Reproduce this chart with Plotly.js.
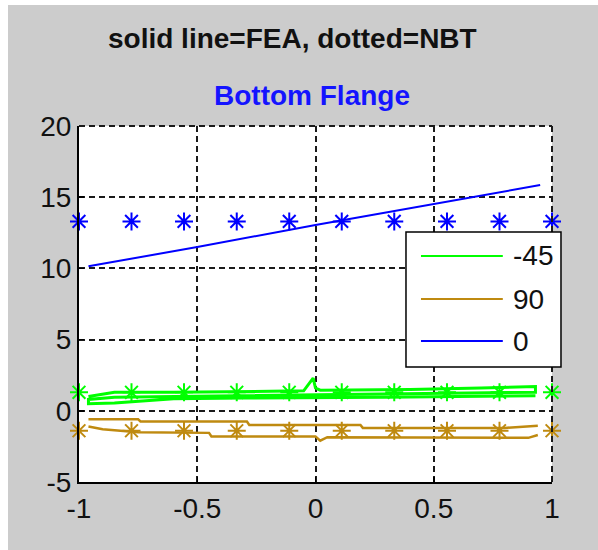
<!DOCTYPE html>
<html>
<head>
<meta charset="utf-8">
<script src="https://cdn.plot.ly/plotly-3.0.1.min.js"></script>
<style>
  html, body { margin: 0; padding: 0; background: #ffffff; }
  #chart { position: absolute; left: 8px; top: 5px; width: 590px; height: 545px; }
</style>
</head>
<body>
<div id="chart"></div>
<script>
// ---- data ----
var seriesNames = ["-45", "90", "0"];
var seriesColors = ["#00ff00", "#bf8a10", "#0000ff"];

// NBT (dotted, star markers)
var nbtX = [-1, -0.778, -0.556, -0.333, -0.111, 0.111, 0.333, 0.556, 0.778, 1];
var nbtM45 = [1.3, 1.3, 1.3, 1.3, 1.3, 1.3, 1.3, 1.3, 1.3, 1.3];
var nbt90 = [-1.4, -1.4, -1.4, -1.4, -1.4, -1.4, -1.4, -1.4, -1.4, -1.4];
var nbt0 = [13.3, 13.3, 13.3, 13.3, 13.3, 13.3, 13.3, 13.3, 13.3, 13.3];

// FEA (solid) -45 : top surface, mid surface, bottom surface
var feaM45X = [-0.96, -0.85, -0.6, -0.3, -0.05, -0.01, 0.0, 0.02, 0.1, 0.4, 0.7, 0.93,
               0.93, 0.7, 0.4, 0.1, 0.02, -0.3, -0.6, -0.85, -0.96,
               -0.96, -0.85, -0.6, -0.3, 0.0, 0.3, 0.6, 0.93];
var feaM45Y = [1.0, 1.3, 1.3, 1.35, 1.4, 2.3, 1.6, 1.45, 1.45, 1.5, 1.6, 1.7,
               1.3, 1.25, 1.2, 1.15, 1.1, 1.05, 1.0, 0.95, 0.8,
               0.5, 0.55, 0.85, 0.9, 0.9, 0.95, 1.0, 1.05];

// FEA (solid) 90 : top surface, bottom surface
var fea90X = [-0.96, -0.75, -0.74, -0.29, -0.28, 0.19, 0.2, 0.8, 0.94, null,
              0.94, 0.9, 0.05, 0.02, 0.0, -0.44, -0.45, -0.75, -0.9, -0.96];
var fea90Y = [-0.6, -0.6, -0.75, -0.75, -1.0, -1.0, -1.2, -1.2, -1.05, null,
              -1.7, -1.9, -1.85, -2.1, -1.8, -1.8, -1.55, -1.5, -1.3, -1.1];

// FEA (solid) 0
var fea0X = [-0.96, -0.5, 0, 0.5, 0.95];
var fea0Y = [10.15, 11.5, 13.05, 14.5, 15.85];

var xTicks = [-1, -0.5, 0, 0.5, 1];
var xTickText = ["-1", "-0.5", "0", "0.5", "1"];
var yTicks = [-5, 0, 5, 10, 15, 20];
var yTickText = ["-5", "0", "5", "10", "15", "20"];

var mainTitle = "solid line=FEA, dotted=NBT";
var subTitle = "Bottom Flange";

// ---- traces ----
function feaTrace(x, y, c, w) {
  return {x: x, y: y, type: "scatter", mode: "lines", showlegend: false,
          line: {color: c, width: w}, hoverinfo: "skip"};
}
function nbtTrace(x, y, c) {
  return {x: x, y: y, type: "scatter", mode: "markers", showlegend: false,
          marker: {symbol: "asterisk-open", size: 15, color: c, line: {color: c, width: 2}},
          cliponaxis: false, hoverinfo: "skip"};
}
var traces = [
  feaTrace(feaM45X, feaM45Y, seriesColors[0], 3),
  feaTrace(fea90X, fea90Y, seriesColors[1], 2.5),
  feaTrace(fea0X, fea0Y, seriesColors[2], 2),
  nbtTrace(nbtX, nbtM45, seriesColors[0]),
  nbtTrace(nbtX, nbt90, seriesColors[1]),
  nbtTrace(nbtX, nbt0, seriesColors[2])
];

// ---- layout ----
var font = "'Liberation Sans', Arial, sans-serif";
var gridDash = "6px,4px";
var gridColor = "#1a1a1a";
var shapes = [
  // top and right dashed borders (grid at the range ends)
  {type: "line", xref: "paper", yref: "paper", x0: 0, x1: 1, y0: 1, y1: 1,
   line: {color: gridColor, width: 2, dash: gridDash}},
  {type: "line", xref: "paper", yref: "paper", x0: 1, x1: 1, y0: 0, y1: 1,
   line: {color: gridColor, width: 2, dash: gridDash}},
  // legend box
  {type: "rect", xref: "paper", yref: "paper", x0: 0.6913, x1: 1.019, y0: 0.323, y1: 0.702,
   fillcolor: "#ffffff", line: {color: "#000", width: 1.5}, layer: "above"}
];
var annotations = [
  {text: mainTitle, xref: "paper", yref: "paper", x: 0.452, y: 1, yanchor: "middle",
   yshift: 88, showarrow: false, font: {family: font, size: 28, color: "#111", weight: "bold"}},
  {text: subTitle, xref: "paper", yref: "paper", x: 0.493, y: 1, yanchor: "middle",
   yshift: 31, showarrow: false, font: {family: font, size: 28, color: "#1414ff", weight: "bold"}}
];
var legY = [0.635, 0.514, 0.396];
for (var i = 0; i < seriesNames.length; i++) {
  shapes.push({type: "line", xref: "paper", yref: "paper", x0: 0.723, x1: 0.896,
               y0: legY[i], y1: legY[i], line: {color: seriesColors[i], width: 2}, layer: "above"});
  annotations.push({text: seriesNames[i], xref: "paper", yref: "paper", x: 0.913, y: legY[i],
                    xanchor: "left", yanchor: "middle", showarrow: false,
                    font: {family: font, size: 28, color: "#111"}});
}

var layout = {
  width: 590, height: 545,
  margin: {l: 71, r: 46, t: 121, b: 68, pad: 0},
  paper_bgcolor: "#cccccc",
  plot_bgcolor: "#ffffff",
  showlegend: false,
  font: {family: font, size: 28, color: "#111"},
  xaxis: {
    range: [-1, 1], tickvals: xTicks, ticktext: xTickText,
    showgrid: true, gridcolor: gridColor, gridwidth: 2, griddash: gridDash,
    zeroline: false, showline: true, linecolor: "#000", linewidth: 2,
    ticks: "inside", ticklen: 5, tickcolor: "#000", tickwidth: 1.5,
    tickfont: {family: font, size: 28, color: "#111"}, fixedrange: true
  },
  yaxis: {
    range: [-5, 20], tickvals: yTicks, ticktext: yTickText,
    showgrid: true, gridcolor: gridColor, gridwidth: 2, griddash: gridDash,
    zeroline: false, showline: true, linecolor: "#000", linewidth: 2,
    ticks: "inside", ticklen: 5, tickcolor: "#000", tickwidth: 1.5,
    tickfont: {family: font, size: 28, color: "#111"}, fixedrange: true
  },
  shapes: shapes,
  annotations: annotations
};

Plotly.newPlot("chart", traces, layout, {displayModeBar: false, staticPlot: true});
</script>
</body>
</html>
